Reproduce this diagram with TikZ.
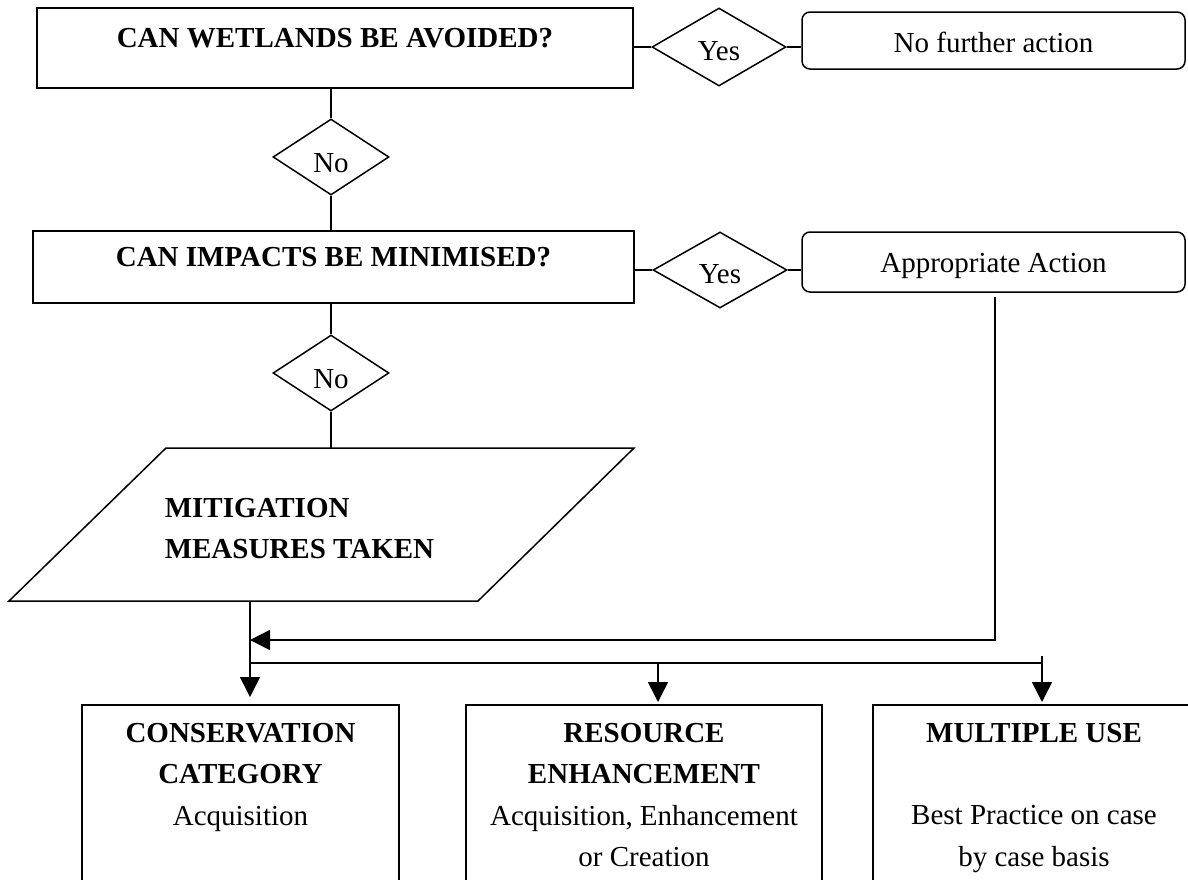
\documentclass[tikz,border=0pt]{standalone}
\usepackage{fontspec}
\setmainfont{Liberation Serif}
\usetikzlibrary{shapes.geometric,arrows.meta}
\begin{document}
\begin{tikzpicture}[x=1pt,y=-1pt, line width=1.5pt,
  font=\fontsize{29}{41.5}\selectfont,
  box/.style={draw, rectangle, inner sep=0pt},
  rbox/.style={draw, rectangle, rounded corners=8pt, inner sep=0pt, minimum width=383pt, text depth=0pt},
  dec/.style={draw, diamond, inner sep=0pt, text depth=0pt},
  arr/.style={-{Triangle[length=20pt,width=20pt]}},
  lbl/.style={inner sep=0pt, align=center, anchor=north}]
\useasboundingbox (0,0) rectangle (1188,879);
\clip (0,0) rectangle (1188,879);

% top row
\node[box, minimum width=596pt, minimum height=80pt, text height=39pt, text depth=41pt] (q1) at (335,48) {\textbf{CAN WETLANDS BE AVOIDED?}};
\node[dec, minimum width=134pt, minimum height=78pt, text height=26pt] (y1) at (719,47) {Yes};
\node[rbox, minimum height=57pt, text height=23pt] (nf) at (993.5,40.5) {No further action};
\node[dec, minimum width=116pt, minimum height=76pt, text height=30pt] (n1) at (331,157) {No};

% second row
\node[box, minimum width=601pt, minimum height=72pt, text height=35pt, text depth=37pt] (q2) at (333.5,267) {\textbf{CAN IMPACTS BE MINIMISED?}};
\node[dec, minimum width=134pt, minimum height=76pt, text height=26pt] (y2) at (720,270) {Yes};
\node[rbox, minimum height=60pt, text height=20pt] (aa) at (993.5,262) {Appropriate Action};
\node[dec, minimum width=116pt, minimum height=76pt, text height=30pt] (n2) at (331,373) {No};

% parallelogram
\coordinate (p1) at (166,448);
\coordinate (p2) at (634,448);
\coordinate (p3) at (478,601);
\coordinate (p4) at (9,601);
\draw (p1) -- (p2) -- (p3) -- (p4) -- cycle;
\node[inner sep=0pt, align=left, anchor=north west, font=\fontsize{29}{41}\selectfont\bfseries] (mit) at (164,497.4) {MITIGATION\\MEASURES TAKEN};
\coordinate (mtop) at (331,448);
\coordinate (mbot) at (250,601);

% bottom boxes
\node[box, minimum width=317pt, minimum height=220pt, anchor=north] (ca) at (240.5,704) {};
\node[box, minimum width=356pt, minimum height=220pt, anchor=north] (rb) at (644,704) {};
\node[box, minimum width=322pt, minimum height=220pt, anchor=north] (mu) at (1034,704) {};
\node[lbl] (cat) at (240.5,722.4) {\textbf{CONSERVATION}\\\textbf{CATEGORY}\\Acquisition};
\node[lbl] (rbt) at (644,722.4) {\textbf{RESOURCE}\\\textbf{ENHANCEMENT}\\Acquisition, Enhancement\\or Creation};
\node[lbl] (mut) at (1034,722.4) {\textbf{MULTIPLE USE}\\[41pt]Best Practice on case\\by case basis};

% connectors
\draw (q1.south -| n1.north) -- (n1.north);
\draw (n1.south) -- (n1.south |- q2.north);
\draw (q2.south -| n2.north) -- (n2.north);
\draw (n2.south) -- (mtop);
\draw (q1.east |- y1.west) -- (y1.west);
\draw (y1.east) -- (y1.east -| nf.west);
\draw (q2.east |- y2.west) -- (y2.west);
\draw (y2.east) -- (y2.east -| aa.west);

\coordinate (j1) at (250,640);
\coordinate (turn) at (995,640);
\path (turn |- aa.south) ++(0,4) coordinate (ad);
\draw[arr] (ad) -- (turn) -- (j1);

\draw[arr, shorten >=7pt] (mbot) -- (mbot |- ca.north);
\coordinate (d0) at (250,663);
\coordinate (d1) at (658,663);
\coordinate (d2) at (1042,663);
\coordinate (d2t) at (1042,656);
\draw (d0) -- (d2);
\draw[arr, shorten >=2pt] (d1) -- (d1 |- rb.north);
\draw[arr, shorten >=2pt] (d2t) -- (d2t |- mu.north);
\end{tikzpicture}
\end{document}
